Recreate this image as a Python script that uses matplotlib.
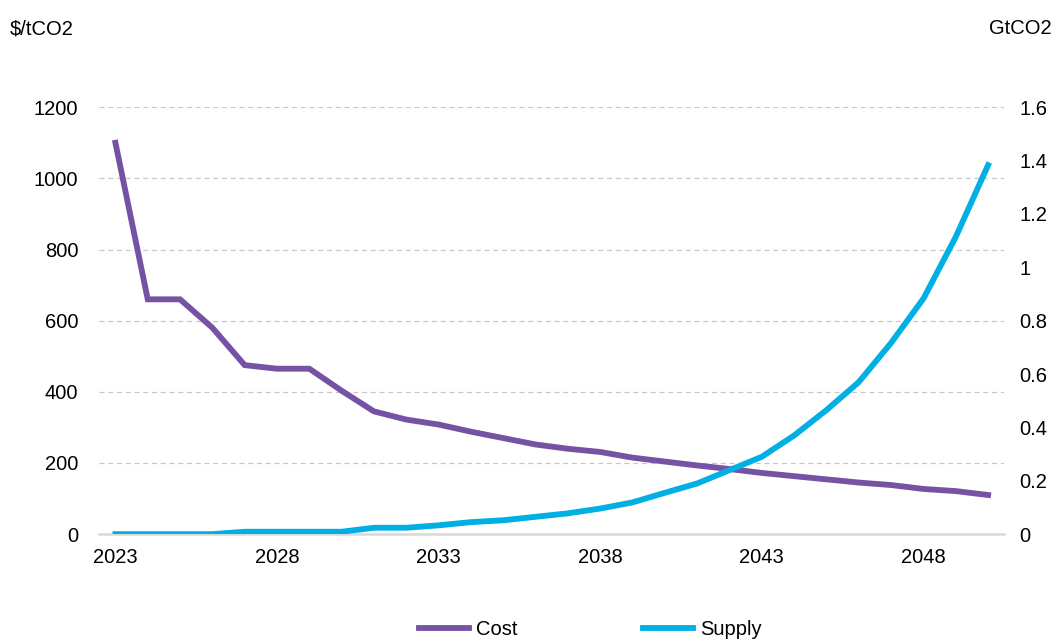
import matplotlib
matplotlib.use("Agg")
import matplotlib.pyplot as plt

plt.rcParams["font.family"] = ["Liberation Sans", "DejaVu Sans"]

years = list(range(2023, 2051))
cost = [1100, 660, 660, 580, 475, 465, 465, 403, 345, 322, 308, 288, 270, 252,
        240, 231, 215, 204, 193, 183, 172, 163, 154, 145, 138, 127, 121, 110]
supply = [0, 0, 0, 0, 0.009, 0.009, 0.009, 0.009, 0.024, 0.024, 0.033, 0.045,
          0.052, 0.065, 0.078, 0.096, 0.119, 0.155, 0.19, 0.24, 0.29, 0.37,
          0.465, 0.57, 0.717, 0.883, 1.114, 1.383]
xticks = [2023, 2028, 2033, 2038, 2043, 2048]
yticks_l = [0, 200, 400, 600, 800, 1000, 1200]
yticks_r = [0, 0.2, 0.4, 0.6, 0.8, 1.0, 1.2, 1.4, 1.6]
yticklabels_r = ["0", "0.2", "0.4", "0.6", "0.8", "1", "1.2", "1.4", "1.6"]

PURPLE = "#7652A4"
CYAN = "#00AFE4"
FS = 14.5

fig = plt.figure(figsize=(10.56, 6.42), dpi=100)
ax = fig.add_axes([0.094, 0.168, 0.857, 0.665])
ax2 = ax.twinx()

l1, = ax.plot(years, cost, color=PURPLE, lw=4.2, solid_joinstyle="miter", label="Cost", zorder=3)
l2, = ax2.plot(years, supply, color=CYAN, lw=4.2, solid_joinstyle="miter", label="Supply", zorder=3)

ax.set_xlim(2022.5, 2050.5)
ax.set_ylim(0, 1200)
ax2.set_ylim(0, 1.6)
ax.set_xticks(xticks)
ax.set_yticks(yticks_l)
ax2.set_yticks(yticks_r)
ax2.set_yticklabels(yticklabels_r)

for g in yticks_l[1:]:
    ax.axhline(g, color="#c8c8c8", lw=0.9, ls=(0, (4, 3)), zorder=1)

for a in (ax, ax2):
    for s in a.spines.values():
        s.set_visible(False)
ax.spines["bottom"].set_visible(True)
ax.spines["bottom"].set_color("#d9d9d9")
ax.spines["bottom"].set_linewidth(1.8)

ax.tick_params(axis="both", length=0, labelsize=FS)
ax.tick_params(axis="y", pad=15)
ax.tick_params(axis="x", pad=10)
ax2.tick_params(axis="y", length=0, labelsize=FS, pad=11)

fig.text(10 / 1056, 1 - 29 / 642, "$/tCO2", fontsize=FS, va="center", ha="left")
fig.text(1052 / 1056, 1 - 29 / 642, "GtCO2", fontsize=FS, va="center", ha="right")

fig.legend([l1, l2], ["Cost", "Supply"], loc="center", bbox_to_anchor=(0.559, 0.02),
           ncol=2, frameon=False, fontsize=FS, handlelength=2.5, handletextpad=0.35,
           columnspacing=6.2)

fig.savefig("out.png", dpi=100)
